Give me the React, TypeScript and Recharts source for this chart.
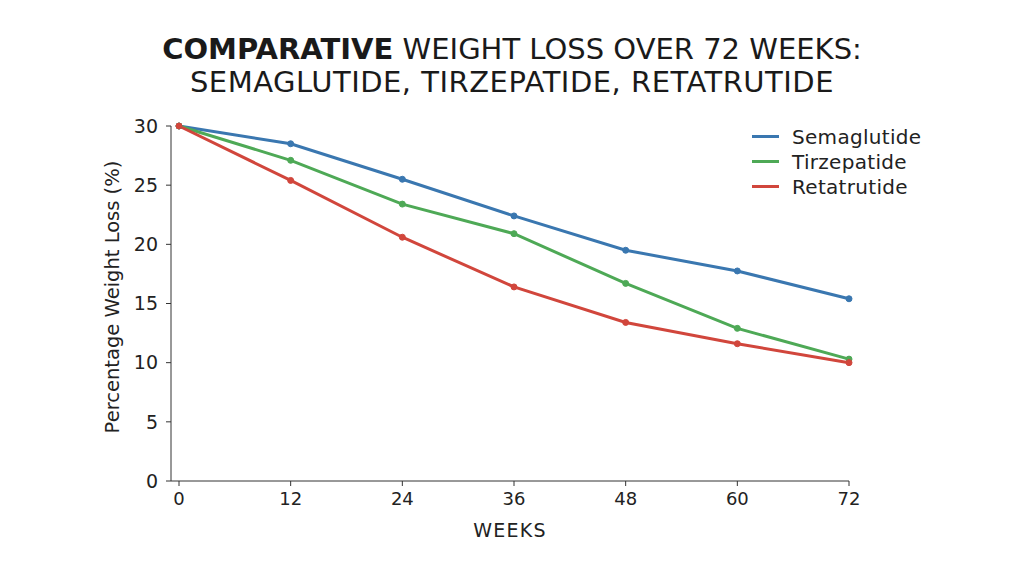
import React from "react";
import { LineChart, Line, XAxis, YAxis } from "recharts";

const weeks = [0, 12, 24, 36, 48, 60, 72];
const semaglutide = [30, 28.5, 25.5, 22.4, 19.5, 17.75, 15.4];
const tirzepatide = [30, 27.1, 23.4, 20.9, 16.7, 12.9, 10.3];
const retatrutide = [30, 25.4, 20.6, 16.4, 13.4, 11.6, 10.0];
const xTicks = [0, 12, 24, 36, 48, 60, 72];
const yTicks = [0, 5, 10, 15, 20, 25, 30];

const seriesNames = ["Semaglutide", "Tirzepatide", "Retatrutide"];
const seriesColors = ["#3a77b0", "#4ea956", "#d1463c"];

const data = weeks.map((w, i) => ({
  week: w,
  Semaglutide: semaglutide[i],
  Tirzepatide: tirzepatide[i],
  Retatrutide: retatrutide[i],
}));

const FONT = "'DejaVu Sans', 'Open Sans', sans-serif";
const TEXT = "#222";

export default function App() {
  return (
    <div
      style={{
        position: "absolute",
        left: 0,
        top: 0,
        width: 1024,
        height: 572,
        background: "#fff",
        fontFamily: FONT,
        overflow: "hidden",
      }}
    >
      <div
        style={{
          position: "absolute",
          left: 0,
          top: 33,
          width: 1024,
          textAlign: "center",
          fontSize: 29,
          lineHeight: "33px",
          color: "#1a1a1a",
        }}
      >
        <div>
          <span style={{ fontWeight: 700 }}>COMPARATIVE</span> WEIGHT LOSS OVER 72 WEEKS:
        </div>
        <div style={{ letterSpacing: 0.5 }}>SEMAGLUTIDE, TIRZEPATIDE, RETATRUTIDE</div>
      </div>

      <div style={{ position: "absolute", left: 0, top: 0 }}>
        <LineChart
          width={1024}
          height={572}
          data={data}
          margin={{ top: 126, right: 175, bottom: 31, left: 91 }}
        >
          <XAxis
            dataKey="week"
            type="number"
            domain={[0, 72]}
            ticks={xTicks}
            padding={{ left: 8, right: 0 }}
            height={60}
            tickSize={5}
            tickMargin={6}
            stroke="#333"
            tick={{ fill: TEXT, fontSize: 18, fontFamily: FONT }}
            label={{
              value: "WEEKS",
              position: "insideBottom",
              offset: 4,
              fill: TEXT,
              fontSize: 19,
              letterSpacing: 1.2,
              fontFamily: FONT,
            }}
          />
          <YAxis
            type="number"
            domain={[0, 30]}
            ticks={yTicks}
            width={80}
            tickSize={5}
            tickMargin={8}
            stroke="#333"
            tick={{ fill: TEXT, fontSize: 19, fontFamily: FONT }}
          />
          {seriesNames.map((name, i) => (
            <Line
              key={name}
              type="linear"
              dataKey={name}
              stroke={seriesColors[i]}
              strokeWidth={3}
              dot={{ r: 3, fill: seriesColors[i], stroke: seriesColors[i], strokeWidth: 1 }}
              isAnimationActive={false}
            />
          ))}
        </LineChart>
      </div>

      <div
        style={{
          position: "absolute",
          left: 112,
          top: 297,
          transform: "translate(-50%, -50%) rotate(-90deg)",
          whiteSpace: "nowrap",
          fontSize: 19.5,
          color: TEXT,
        }}
      >
        Percentage Weight Loss (%)
      </div>

      <div style={{ position: "absolute", left: 752, top: 124 }}>
        {seriesNames.map((name, i) => (
          <div
            key={name}
            style={{ display: "flex", alignItems: "center", height: 25 }}
          >
            <div
              style={{
                width: 27,
                height: 3,
                background: seriesColors[i],
                marginRight: 13,
              }}
            />
            <span style={{ fontSize: 20, letterSpacing: 0.3, color: TEXT }}>{name}</span>
          </div>
        ))}
      </div>
    </div>
  );
}
